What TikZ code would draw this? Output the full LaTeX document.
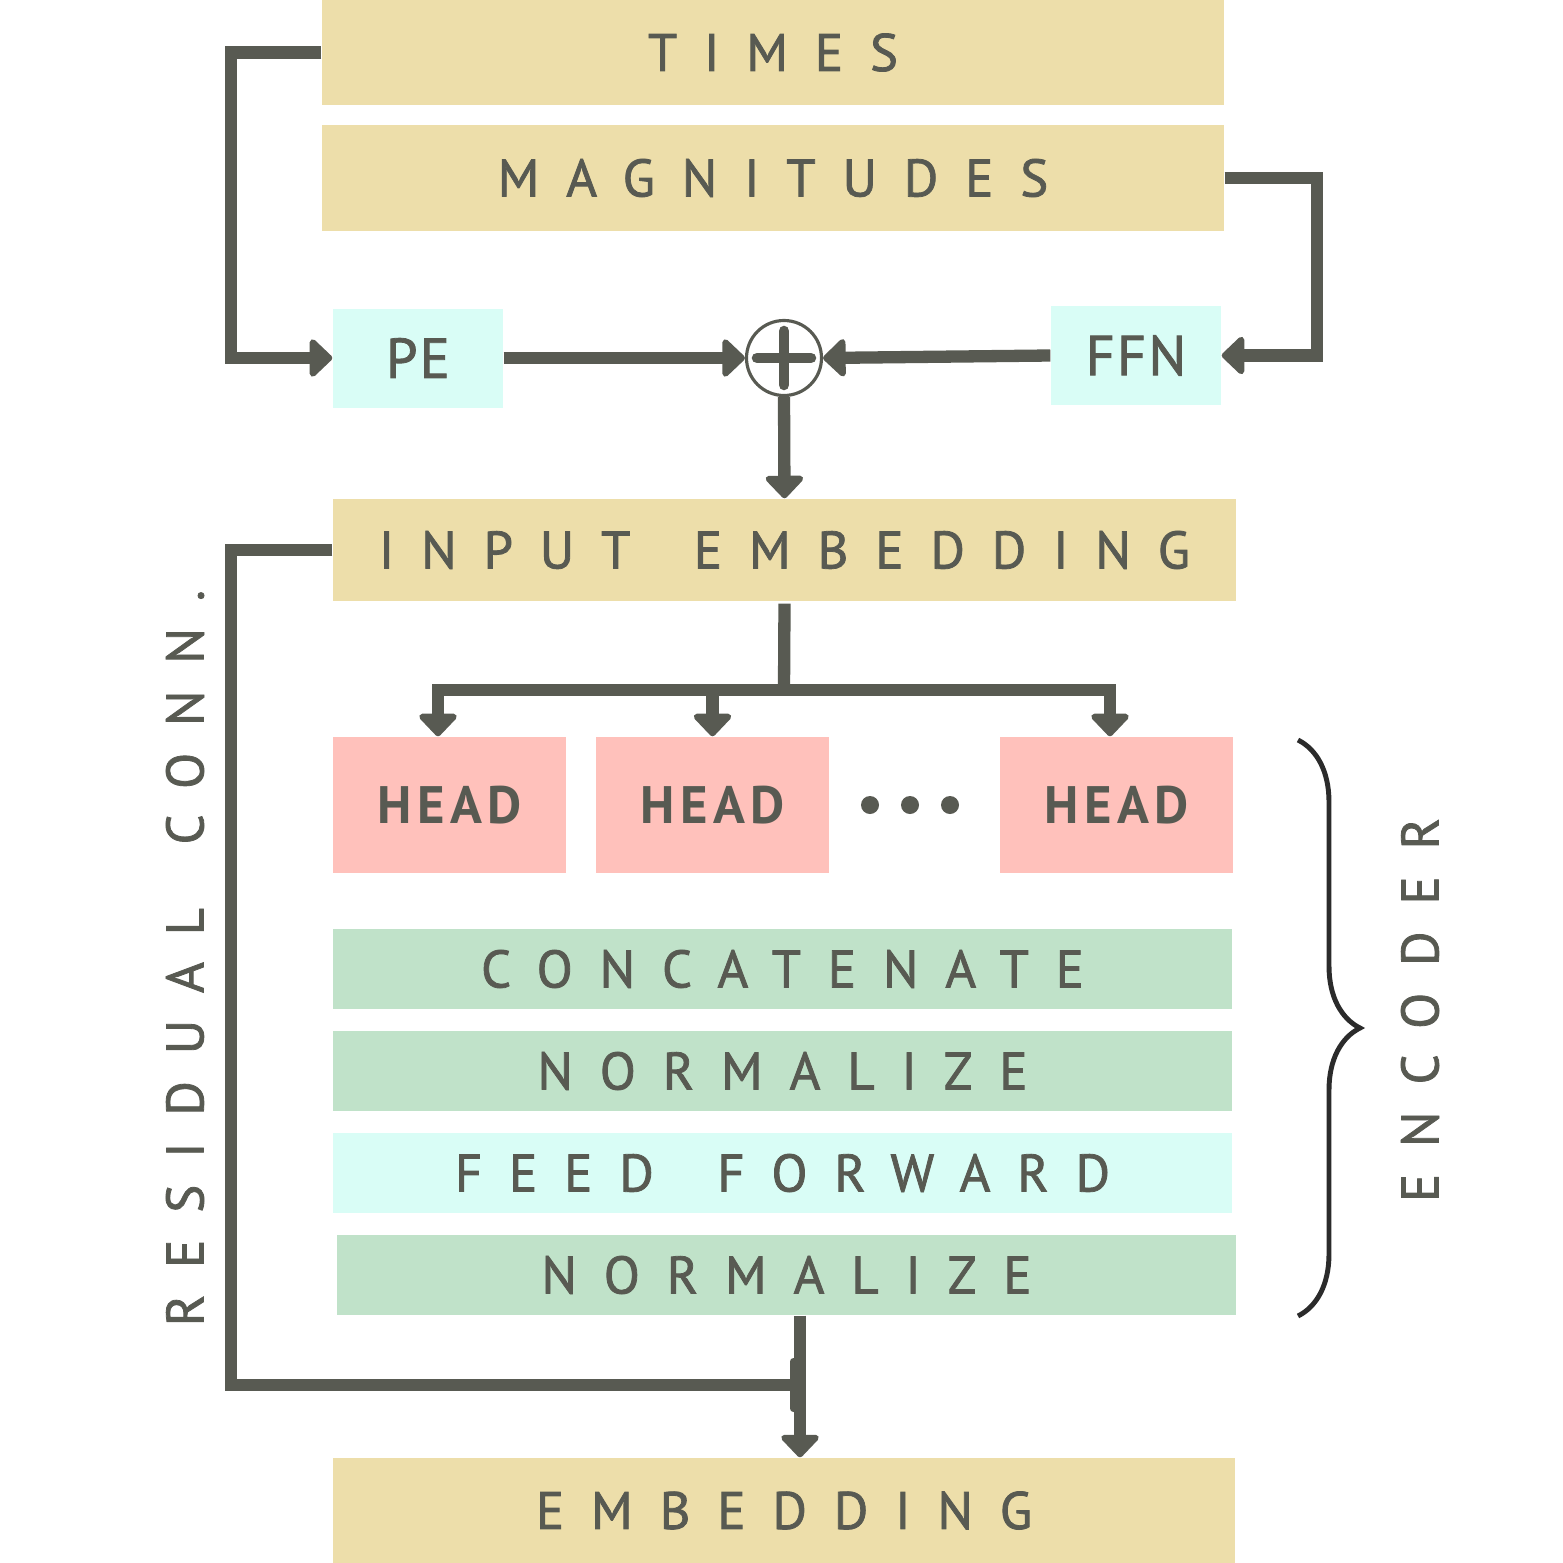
\documentclass[tikz,border=0pt]{standalone}
\usepackage{fontspec}
\setmainfont{PT Sans}
\usepackage{tikz}
\usetikzlibrary{arrows.meta, decorations.pathreplacing}

\definecolor{ink}{HTML}{585A52}
\definecolor{sand}{HTML}{EDDEAA}
\definecolor{mint}{HTML}{D9FDF6}
\definecolor{blush}{HTML}{FFC1BB}
\definecolor{sage}{HTML}{C0E2C9}
\definecolor{bracecol}{HTML}{2B2B2B}

\newfontfamily\stencil[LetterSpace=51, WordSpace=1.55, FakeBold=1.5]{PT Sans}
\newfontfamily\stencilhead[LetterSpace=10]{PT Sans Bold}
\newfontfamily\stencilsmall[LetterSpace=4, FakeBold=1.5]{PT Sans}

\begin{document}
\begin{tikzpicture}[x=0.1mm, y=-0.1mm,
  every node/.style={inner sep=0pt, text=ink},
  band/.style={minimum width=89.9mm, minimum height=8mm, font=\stencil\fontsize{15}{18}\selectfont},
  sandbox/.style={band, fill=sand},
  sagebox/.style={band, fill=sage},
  mintband/.style={band, fill=mint},
  smallbox/.style={fill=mint, minimum width=17mm, minimum height=9.9mm, font=\stencilsmall\fontsize{16}{19}\selectfont},
  headbox/.style={fill=blush, minimum width=23.3mm, minimum height=13.6mm, font=\stencilhead\fontsize{15}{18}\selectfont},
  sidelabel/.style={rotate=90, font=\stencil\fontsize{15}{18}\selectfont},
  link/.style={draw=ink, line width=3.5pt},
  arrowlink/.style={link, -{Triangle[length=2.4mm, width=4.4mm, round]}}
]
\useasboundingbox (0,0) rectangle (1563,1563);

% --- Inputs ---
\node[sandbox, minimum width=90.2mm, minimum height=10.5mm] (times) at (773,52.5) {TIMES};
\node[sandbox, minimum width=90.2mm, minimum height=10.6mm] (magn) at (773,178) {MAGNITUDES};

% --- Encoding branch ---
\node[smallbox] (pe) at (418,358) {PE};
\node[smallbox] (ffn) at (1136,355.5) {FFN};
\node[draw=ink, circle, line width=0.9pt, minimum size=7.5mm] (sum) at (784,358) {};
\draw[ink, line width=3pt, line cap=round] ([xshift=-2.7mm]sum.center) -- ([xshift=2.7mm]sum.center);
\draw[ink, line width=3pt, line cap=round] ([yshift=-2.7mm]sum.center) -- ([yshift=2.7mm]sum.center);

\node[sandbox, minimum width=90.3mm, minimum height=10.2mm] (inp) at (784.5,550) {INPUT EMBEDDING};

% --- Attention heads ---
\foreach \n/\x in {h1/449.5, h2/712.5, h3/1116.5}{
  \node[headbox] (\n) at (\x,805) {HEAD};
}
\foreach \x in {870,910,950}{
  \fill[ink] (\x,805) circle (0.9mm);
}

% --- Encoder layers ---
\node[sagebox] (concat) at (782.5,969) {CONCATENATE};
\node[sagebox] (norm1) at (782.5,1071) {NORMALIZE};
\node[mintband] (ff) at (782.5,1173) {FEED FORWARD};
\node[sagebox] (norm2) at (786.5,1275) {NORMALIZE};

\node[sandbox, minimum width=90.2mm, minimum height=10.5mm] (emb) at (784,1510.5) {EMBEDDING};

% --- Side labels ---
\node[sidelabel] (resid) at (185,958) {RESIDUAL CONN.};
\node[sidelabel] (enc) at (1420,1010) {ENCODER};
\draw[bracecol, line width=1.4pt, decorate, decoration={brace, amplitude=6.2mm}] (1298,740) -- (1298,1316);

% --- Connectors ---
\draw[arrowlink] (times.west) -- ++(-90,0) |- (pe.west);
\draw[arrowlink] (magn.east) -- ++(92,0) |- (ffn.east);
\draw[arrowlink] (pe.east) -- (sum.west);
\draw[arrowlink] (ffn.west) -- (sum.east);
\draw[arrowlink] (sum.south) -- (inp.north);

\coordinate (split) at (784,690);
\draw[link] ([yshift=-0.2mm]inp.south) -- (split);
\draw[arrowlink] (split) -| ([xshift=-1.15mm]h1.north);
\draw[arrowlink] (split) -| (h2.north);
\draw[arrowlink] (split) -| ([xshift=-0.65mm]h3.north);

% --- Residual connection ---
\coordinate (merge) at (797,1385);
\draw[link, -{Bar[width=4.7mm, line width=0.7mm, round]}] (inp.west) -- ++(-101,0) |- (merge);
\draw[arrowlink] ([xshift=1.35mm]norm2.south) -- ([xshift=1.6mm]emb.north);
\end{tikzpicture}
\end{document}
